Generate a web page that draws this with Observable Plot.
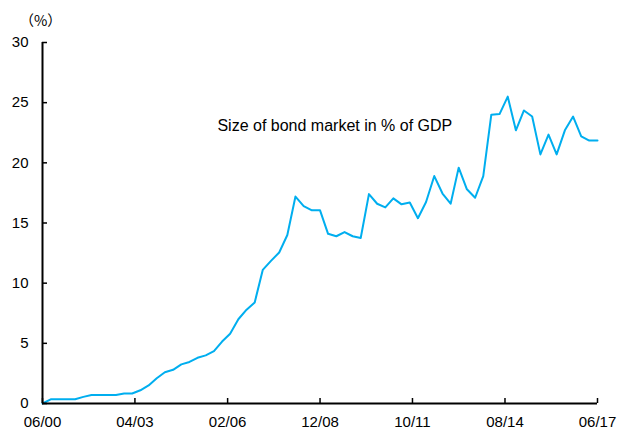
<!DOCTYPE html>
<html><head><meta charset="utf-8">
<script src="https://cdn.jsdelivr.net/npm/d3@7"></script>
<script src="https://cdn.jsdelivr.net/npm/@observablehq/plot@0.6"></script>
<style>body{margin:0;background:#fff}</style></head>
<body><div id="chart"></div>
<script>
const quarters = [
  "2000-06","2000-09","2000-12",
  "2001-03","2001-06","2001-09","2001-12",
  "2002-03","2002-06","2002-09","2002-12",
  "2003-03","2003-06","2003-09","2003-12",
  "2004-03","2004-06","2004-09","2004-12",
  "2005-03","2005-06","2005-09","2005-12",
  "2006-03","2006-06","2006-09","2006-12",
  "2007-03","2007-06","2007-09","2007-12",
  "2008-03","2008-06","2008-09","2008-12",
  "2009-03","2009-06","2009-09","2009-12",
  "2010-03","2010-06","2010-09","2010-12",
  "2011-03","2011-06","2011-09","2011-12",
  "2012-03","2012-06","2012-09","2012-12",
  "2013-03","2013-06","2013-09","2013-12",
  "2014-03","2014-06","2014-09","2014-12",
  "2015-03","2015-06","2015-09","2015-12",
  "2016-03","2016-06","2016-09","2016-12",
  "2017-03","2017-06"
];
const bondSizePct = [
  0.0,0.35,0.35,0.35,0.35,0.55,0.7,0.7,0.7,0.7,
  0.83,0.83,1.1,1.5,2.1,2.6,2.8,3.25,3.45,3.8,
  4.0,4.35,5.15,5.8,7.0,7.8,8.4,11.1,11.85,12.55,
  14.0,17.2,16.4,16.05,16.05,14.1,13.9,14.25,13.9,13.75,
  17.4,16.6,16.3,17.05,16.55,16.7,15.4,16.75,18.9,17.45,
  16.6,19.6,17.8,17.1,18.9,24.0,24.05,25.5,22.7,24.35,
  23.85,20.7,22.35,20.7,22.7,23.85,22.2,21.85,21.85
];
const xTickLabels = ["06/00","04/03","02/06","12/08","10/11","08/14","06/17"];
const yTicks = [0,5,10,15,20,25,30];
const seriesLabel = "Size of bond market in % of GDP";
const seriesLabelAt = {date: "2005-10-10", value: 23.1};
const unitLabel = "（%）";

const parseQ = d3.utcParse("%Y-%m");
const data = quarters.map((q, i) => ({date: parseQ(q), value: bondSizePct[i]}));
const tickDates = xTickLabels.map(d3.utcParse("%m/%y"));

const chart = Plot.plot({
  width: 621, height: 432,
  marginLeft: 42, marginRight: 24, marginTop: 42, marginBottom: 29,
  style: {fontFamily: "'Liberation Sans', Arial, sans-serif", fontSize: "15px", color: "#000", background: "#fff"},
  x: {type: "utc", domain: [data[0].date, data[data.length - 1].date]},
  y: {domain: [0, 30]},
  marks: [
    Plot.line(data, {x: "date", y: "value", stroke: "#00AEEF", strokeWidth: 2}),
    Plot.axisY({ticks: yTicks, tickSize: -5, tickPadding: 19, label: null, strokeWidth: 1.5}),
    Plot.axisX({ticks: tickDates, tickFormat: d3.utcFormat("%m/%y"), tickSize: -5, tickPadding: 18, label: null, strokeWidth: 1.5}),
    Plot.ruleX([data[0].date], {stroke: "#000", strokeWidth: 2}),
    Plot.ruleY([0], {stroke: "#000", strokeWidth: 2}),
    Plot.text([seriesLabel], {x: () => new Date(seriesLabelAt.date), y: () => seriesLabelAt.value, text: d => d, textAnchor: "start", fontSize: 16}),
    Plot.text([unitLabel], {frameAnchor: "top-left", dx: -23, dy: -27, text: d => d, textAnchor: "start", fontFamily: "'Noto Sans CJK JP', sans-serif", fontSize: 14.5})
  ]
});
document.getElementById("chart").append(chart);
</script>
</body></html>
